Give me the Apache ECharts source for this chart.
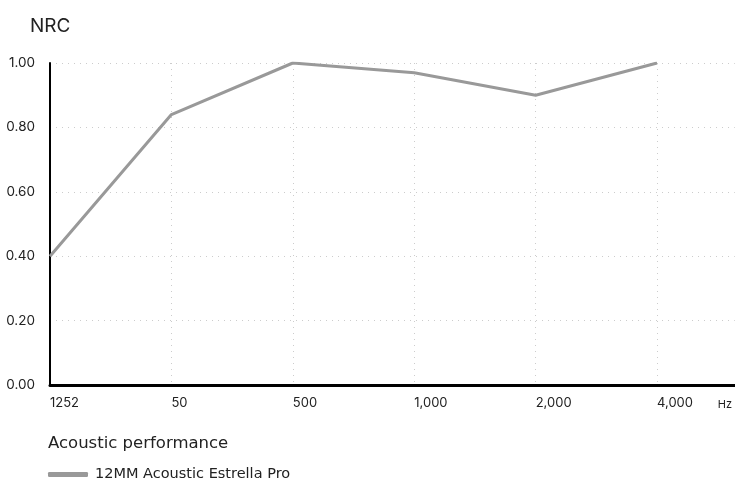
<!DOCTYPE html>
<html><head><meta charset="utf-8">
<script src="https://cdn.jsdelivr.net/npm/echarts@6/dist/echarts.min.js"></script>
<style>html,body{margin:0;padding:0;background:#fff}#c{width:735px;height:479px}</style>
</head><body><div id="c"></div>
<script>
var categories = ['125', '250', '500', '1,000', '2,000', '4,000'];
var tickLabels = ['1252', '50', '500', '1,000', '2,000', '4,000'];
var nrcValues = [0.40, 0.84, 1.00, 0.97, 0.90, 1.00];
var seriesName = '12MM Acoustic Estrella Pro';
var yTicks = [0, 0.2, 0.4, 0.6, 0.8, 1.0];

var FONT = 'Inter, "Noto Sans", sans-serif';
var WIDE = '"DejaVu Sans", Inter, sans-serif';
var chart = echarts.init(document.getElementById('c'), null, {renderer: 'canvas'});
var points = nrcValues.map(function (v, i) { return [i, v]; });
chart.setOption({
  animation: false,
  textStyle: {fontFamily: FONT},
  title: [
    {text: 'NRC', left: 25, top: 12, textStyle: {fontSize: 19, fontWeight: 'normal', color: '#222', fontFamily: FONT}},
    {text: 'Acoustic performance', left: 43, top: 430, textStyle: {fontSize: 16.5, fontWeight: 'normal', color: '#222', fontFamily: WIDE}}
  ],
  legend: {
    left: 43, top: 462, itemWidth: 40, itemHeight: 5, icon: 'roundRect', itemGap: 10,
    textStyle: {fontSize: 14.5, color: '#222', fontFamily: WIDE, padding: [0, 0, 0, 2]},
    data: [seriesName]
  },
  grid: {left: 50, right: 0, top: 63, bottom: 94, containLabel: false},
  xAxis: {
    type: 'value', min: 0, max: 5.64, interval: 1,
    axisLine: {show: true, lineStyle: {color: '#000', width: 3}},
    axisTick: {show: false},
    axisLabel: {
      showMaxLabel: false, color: '#222', fontSize: 13, fontFamily: FONT, align: 'left', margin: 12,
      formatter: function (v) { var i = Math.round(v); return (Math.abs(v - i) < 1e-6 && tickLabels[i] !== undefined) ? tickLabels[i] : ''; }
    },
    splitLine: {show: true, lineStyle: {color: '#ccc', type: [1, 5], width: 1}},
    name: 'Hz', nameLocation: 'end', nameGap: -17,
    nameTextStyle: {fontSize: 11, color: '#222', align: 'left', verticalAlign: 'top', padding: [14, 0, 0, 0], fontFamily: FONT}
  },
  yAxis: {
    type: 'value', min: yTicks[0], max: yTicks[yTicks.length - 1], interval: 0.2,
    axisLine: {show: true, lineStyle: {color: '#000', width: 2}},
    axisTick: {show: false},
    axisLabel: {color: '#222', fontSize: 13.5, fontFamily: FONT, margin: 15, formatter: function (v) { return v.toFixed(2); }},
    splitLine: {show: true, lineStyle: {color: '#ccc', type: [1, 5], width: 1}}
  },
  series: [{
    name: seriesName, type: 'line', data: points, showSymbol: false, symbol: 'none',
    lineStyle: {color: '#999', width: 3}, itemStyle: {color: '#999'}
  }]
});
</script></body></html>
